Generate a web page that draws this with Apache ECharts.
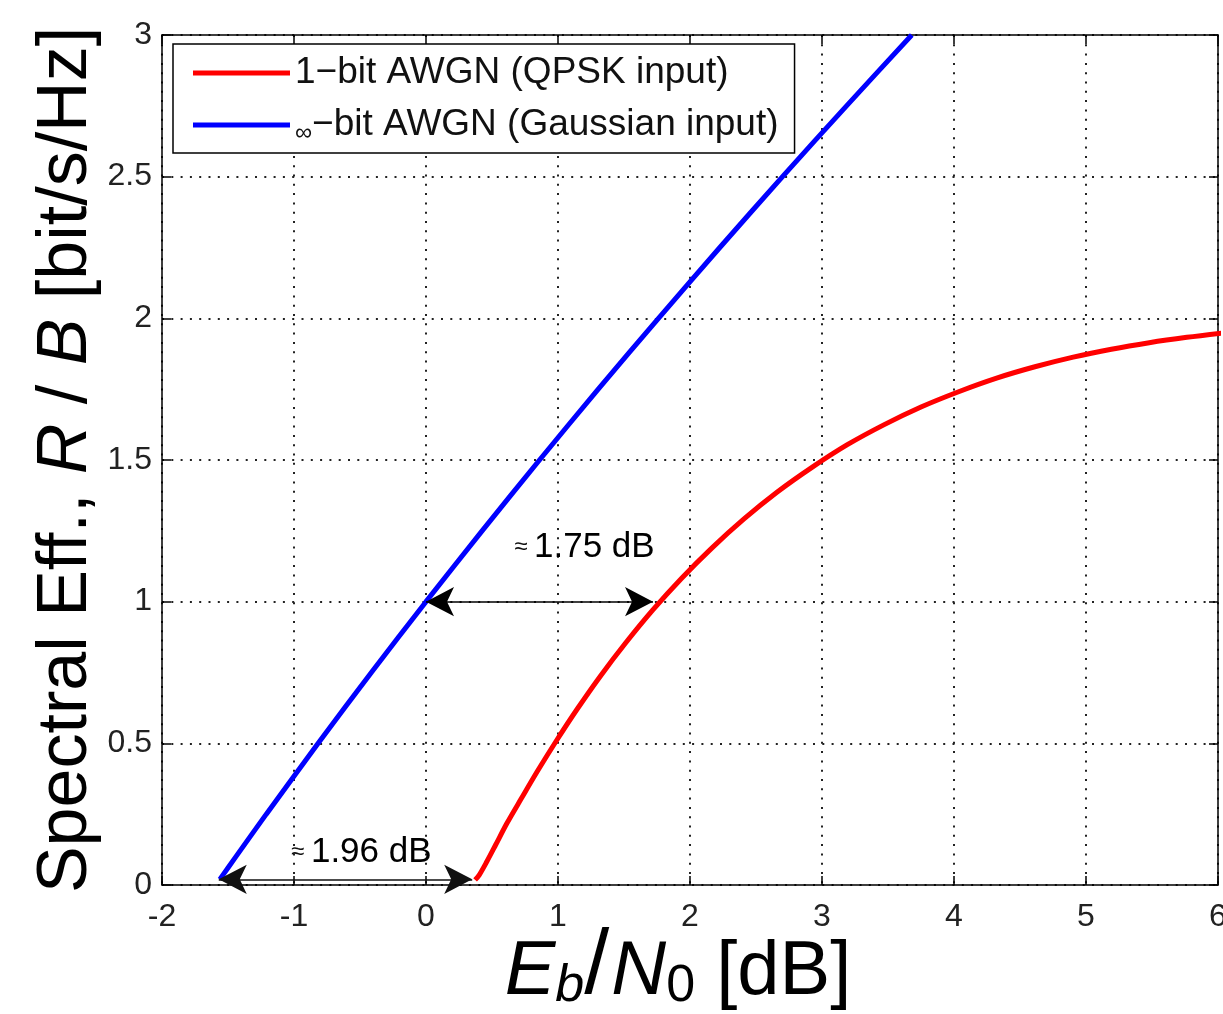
<!DOCTYPE html>
<html>
<head>
<meta charset="utf-8">
<script src="https://cdn.jsdelivr.net/npm/echarts@6/dist/echarts.min.js"></script>
<style>
html,body{margin:0;padding:0;background:#fff;}
#c{width:1223px;height:1014px;}
</style>
</head>
<body>
<div id="c"></div>
<script>
// ---- data ----
const seriesNames = ['1−bit AWGN (QPSK input)', '∞−bit AWGN (Gaussian input)'];
// [Eb/N0 dB, R/B]
const oneBit = [[0.372,0.018],[0.404,0.036],[0.459,0.081],[0.528,0.142],[0.612,0.217],[0.722,0.305],
  [0.846,0.403],[0.989,0.510],[1.147,0.622],[1.322,0.738],[1.512,0.854],[1.717,0.970],[1.935,1.082],
  [2.167,1.190],[2.409,1.292],[2.661,1.387],[2.924,1.474],[3.192,1.554],[3.468,1.624],[3.750,1.687],
  [4.035,1.741],[4.323,1.789],[4.613,1.829],[4.903,1.863],[5.192,1.891],[5.479,1.914],[5.764,1.933],[6.046,1.949]];
const infBit = [[-1.562,0.02],[-1.440,0.1],[-1.210,0.25],[-0.817,0.5],[-0.414,0.75],[0,1],[0.425,1.25],
  [0.860,1.5],[1.305,1.75],[1.761,2],[2.226,2.25],[2.701,2.5],[3.186,2.75],[3.680,3]];
const arrowA = [[0, 1], [1.72, 1]];
const arrowB = [[-1.57, 0.02], [0.35, 0.02]];
const noteTexts = ['1.75 dB', '1.96 dB'];
const notePos = [[1.2, 1.19], [-0.49, 0.116]];
const xTicks = {min: -2, max: 6, interval: 1};
const yTicks = {min: 0, max: 3, interval: 0.5};

const FONT = '"Liberation Sans", Arial, sans-serif';
const chart = echarts.init(document.getElementById('c'), null, {renderer: 'canvas'});

const gridLine = {show: true, lineStyle: {color: '#222', width: 2, type: [2, 7.3]}};
const baseAxisLine = {show: true, onZero: false, lineStyle: {color: '#000', width: 1.5}};
const tick = {show: true, inside: true, length: 9, lineStyle: {color: '#000', width: 1.5}};

const option = {
  backgroundColor: '#fff',
  animation: false,
  grid: {left: 162, right: 5, top: 35, bottom: 129, containLabel: false, outerBoundsMode: 'none'},
  legend: {
    data: seriesNames,
    orient: 'vertical',
    left: 173, top: 44,
    padding: [9, 16, 8, 20],
    itemGap: 12,
    itemWidth: 97, itemHeight: 5,
    icon: 'rect',
    borderColor: '#000', borderWidth: 1.5,
    backgroundColor: '#fff',
    textStyle: {fontFamily: FONT, fontSize: 37, color: '#111', lineHeight: 40,
      rich: {inf: {fontSize: 24, fontFamily: FONT, color: '#111', verticalAlign: 'bottom', lineHeight: 34}}},
    formatter: function (n) {
      if (n.charAt(0) === '∞') return '{inf|∞}' + n.slice(1);
      return n;
    }
  },
  xAxis: [{
    type: 'value', min: xTicks.min, max: xTicks.max, interval: xTicks.interval,
    position: 'bottom',
    axisLine: baseAxisLine, axisTick: tick,
    axisLabel: {fontFamily: FONT, fontSize: 32, color: '#222', margin: 16},
    splitLine: gridLine,
    name: '{i|E}{sb|b}{sl|/}{i|N}{s0|0}{n| [dB]}',
    nameLocation: 'middle', nameGap: 48, nameMoveOverlap: false,
    nameTextStyle: {
      padding: [0, 24, 0, 0],
      rich: {
        i: {fontFamily: FONT, fontSize: 76, fontStyle: 'italic', color: '#000', lineHeight: 80, verticalAlign: 'middle'},
        n: {fontFamily: FONT, fontSize: 76, color: '#000', lineHeight: 80, verticalAlign: 'middle'},
        sl: {fontFamily: FONT, fontSize: 90, color: '#000', lineHeight: 80, verticalAlign: 'bottom', padding: [0, 2, 0, 0]},
        sb: {fontFamily: FONT, fontSize: 52, fontStyle: 'italic', color: '#000', lineHeight: 52, verticalAlign: 'bottom'},
        s0: {fontFamily: FONT, fontSize: 52, color: '#000', lineHeight: 52, verticalAlign: 'bottom'}
      }
    }
  }, {
    type: 'value', min: xTicks.min, max: xTicks.max, interval: xTicks.interval,
    position: 'top',
    axisLine: baseAxisLine, axisTick: tick,
    axisLabel: {show: false}, splitLine: {show: false}
  }],
  yAxis: [{
    type: 'value', min: yTicks.min, max: yTicks.max, interval: yTicks.interval,
    position: 'left',
    axisLine: baseAxisLine, axisTick: tick,
    axisLabel: {fontFamily: FONT, fontSize: 32, color: '#222', margin: 10},
    splitLine: gridLine,
    name: 'Spectral Eff., {i|R}{n| / }{i|B}{n| [bit/s/Hz]}',
    nameLocation: 'middle', nameGap: 60, nameRotate: 90, nameMoveOverlap: false,
    nameTextStyle: {
      fontFamily: FONT, fontSize: 70, color: '#000',
      rich: {
        i: {fontFamily: FONT, fontSize: 70, fontStyle: 'italic', color: '#000'},
        n: {fontFamily: FONT, fontSize: 70, color: '#000'}
      }
    }
  }, {
    type: 'value', min: yTicks.min, max: yTicks.max, interval: yTicks.interval,
    position: 'right',
    axisLine: baseAxisLine, axisTick: tick,
    axisLabel: {show: false}, splitLine: {show: false}
  }],
  series: [{
    name: seriesNames[0], type: 'line', data: oneBit, showSymbol: false, smooth: 0.3,
    color: '#ff0000', lineStyle: {color: '#ff0000', width: 5}, z: 3,
    markLine: {
      silent: true, symbol: ['arrow', 'arrow'], symbolSize: [22, 28],
      lineStyle: {color: '#000', width: 1.5, type: 'solid'}, label: {show: false},
      data: [[{coord: arrowA[0]}, {coord: arrowA[1]}]]
    }
  }, {
    name: seriesNames[1], type: 'line', data: infBit, showSymbol: false, smooth: 0.3,
    color: '#0000ff', lineStyle: {color: '#0000ff', width: 5}, z: 3,
    markLine: {
      silent: true, symbol: ['arrow', 'arrow'], symbolSize: [22, 28],
      lineStyle: {color: '#111', width: 1.5, type: 'solid'}, label: {show: false},
      data: [[{coord: arrowB[0]}, {coord: arrowB[1]}]]
    }
  }, {
    name: 'notes', type: 'scatter', symbolSize: 0, silent: true, z: 5,
    data: notePos,
    itemStyle: {color: '#000', opacity: 1},
    label: {
      show: true, position: 'inside', color: '#000', textBorderWidth: 0, opacity: 1,
      formatter: function (p) { return '{a|≈ }{t|' + noteTexts[p.dataIndex] + '}'; },
      rich: {
        a: {fontFamily: FONT, fontSize: 24, color: '#111', textBorderWidth: 0},
        t: {fontFamily: FONT, fontSize: 35, color: '#000', textBorderWidth: 0}
      }
    }
  }]
};
chart.setOption(option);
</script>
</body>
</html>
